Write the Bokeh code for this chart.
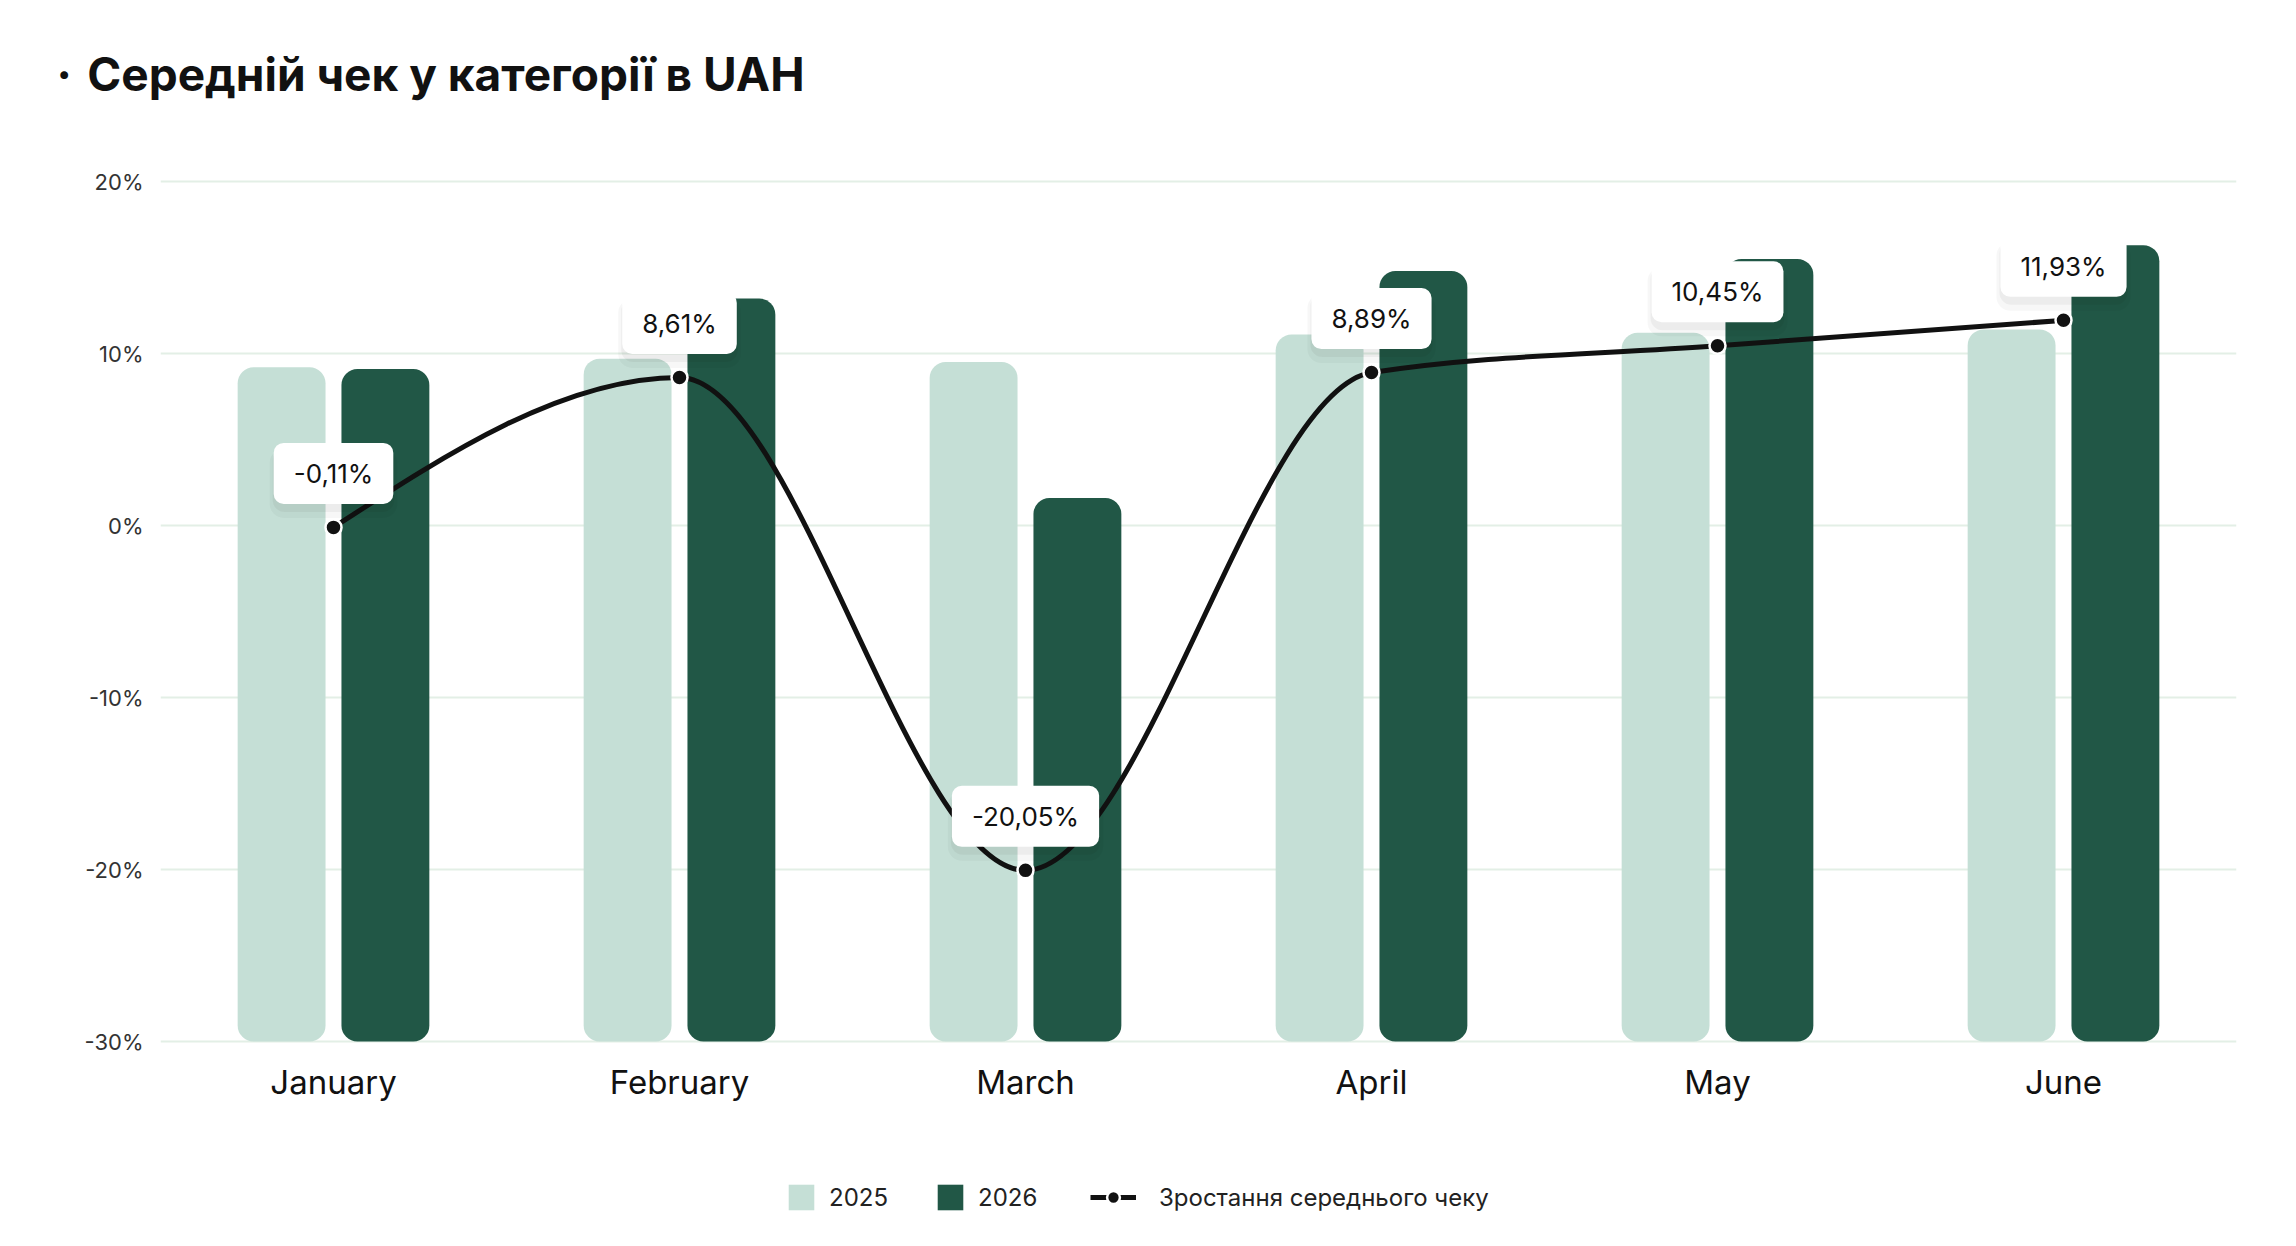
from bokeh.plotting import figure
from bokeh.models import (Range1d, FixedTicker, PrintfTickFormatter, ColumnDataSource,
                          Legend, LegendItem)
from bokeh.transform import dodge
from bokeh.core.properties import value
from bokeh.embed import file_html
from bokeh.resources import INLINE

# ---------------- data ----------------
months = ["January", "February", "March", "April", "May", "June"]
bar_2025 = [9.2, 9.7, 9.5, 11.1, 11.2, 11.4]      # bar heights read on the left scale
bar_2026 = [9.1, 13.2, 1.6, 14.8, 15.5, 16.3]
growth = [-0.11, 8.61, -20.05, 8.89, 10.45, 11.93]  # Зростання середнього чеку, %
y_ticks = [-30, -20, -10, 0, 10, 20]
bar_base = -30
title_text = "Середній чек у категорії в UAH"
series_names = ["2025", "2026", "Зростання середнього чеку"]

# ---------------- styling / layout ----------------
FONT = "Inter"
C25 = "#c5dfd6"
C26 = "#215746"
LINE = "#111111"
GRID = "#e3efe6"

W, H = 2288, 1238
LEFT, RIGHT, TOP = 160, 52, 101           # frame borders (frame reaches the canvas bottom)
PX_PER_UNIT = 17.2                        # 10 % = 172 px
Y_TOP_PX, Y_BOT_PX = 181, 1041            # where 20 % and -30 % lie
y_end = y_ticks[-1] + (Y_TOP_PX - TOP) / PX_PER_UNIT
y_start = y_ticks[0] - (H - Y_BOT_PX) / PX_PER_UNIT

xs = [i + 0.5 for i in range(len(months))]
labels = [f"{v:.2f}".replace(".", ",") + "%" for v in growth]

src = ColumnDataSource(dict(x=xs, m=months, b25=bar_2025, b26=bar_2026,
                            g=growth, lab=labels))

p = figure(width=W, height=H, output_backend="svg", toolbar_location=None,
           x_range=Range1d(0, len(months)), y_range=Range1d(y_start, y_end),
           x_axis_location=None,
           min_border_left=LEFT, min_border_right=RIGHT, min_border_top=TOP,
           min_border_bottom=0, outline_line_color=None, background_fill_color="white",
           border_fill_color="white")

# title
p.title.text = "·\u2004" + title_text
p.title.align = "left"
p.title.offset = -104
p.title.vertical_align = "bottom"
p.title.standoff = 0
p.title.text_font = FONT
p.title.text_font_size = "46px"
p.title.text_font_style = "bold"
p.title.text_color = "#111111"

# grid
p.xgrid.grid_line_color = None
p.ygrid.ticker = FixedTicker(ticks=y_ticks)
p.ygrid.grid_line_color = GRID
p.ygrid.grid_line_width = 2

# y axis
p.yaxis.ticker = FixedTicker(ticks=y_ticks)
p.yaxis.formatter = PrintfTickFormatter(format="%d%%")
p.yaxis.axis_line_color = None
p.yaxis.major_tick_line_color = None
p.yaxis.minor_tick_line_color = None
p.yaxis.major_tick_out = 0
p.yaxis.major_label_standoff = 17
p.yaxis.major_label_text_font = FONT
p.yaxis.major_label_text_font_size = "22px"
p.yaxis.major_label_text_color = "#333333"

# month labels under the -30 % line
p.text(x="x", y=bar_base, text="m", source=src, text_font=value(FONT),
       text_font_size=value("33px"), text_color="#111111", text_align="center",
       text_baseline="middle", y_offset=40)

# bars
r25 = p.vbar(x=dodge("x", -0.15, range=p.x_range), top="b25", bottom=bar_base, width=0.254,
             source=src, fill_color=C25, line_color=None, border_radius=16)
r26 = p.vbar(x=dodge("x", 0.15, range=p.x_range), top="b26", bottom=bar_base, width=0.254,
             source=src, fill_color=C26, line_color=None, border_radius=16)

# smooth (monotone cubic) line drawn as bezier segments through the data points
def sign(v):
    return (v > 0) - (v < 0)

n = len(xs)
h = [xs[i + 1] - xs[i] for i in range(n - 1)]
s = [(growth[i + 1] - growth[i]) / h[i] for i in range(n - 1)]
t = [0.0] * n
for i in range(1, n - 1):
    pp = (s[i - 1] * h[i] + s[i] * h[i - 1]) / (h[i - 1] + h[i])
    t[i] = (sign(s[i - 1]) + sign(s[i])) * min(abs(s[i - 1]), abs(s[i]), 0.5 * abs(pp))
t[0] = (3 * s[0] - t[1]) / 2
t[-1] = (3 * s[-1] - t[-2]) / 2
bz = dict(x0=[], y0=[], x1=[], y1=[], cx0=[], cy0=[], cx1=[], cy1=[])
for i in range(n - 1):
    bz["x0"].append(xs[i]); bz["y0"].append(growth[i])
    bz["x1"].append(xs[i + 1]); bz["y1"].append(growth[i + 1])
    bz["cx0"].append(xs[i] + h[i] / 3); bz["cy0"].append(growth[i] + h[i] * t[i] / 3)
    bz["cx1"].append(xs[i + 1] - h[i] / 3); bz["cy1"].append(growth[i + 1] - h[i] * t[i + 1] / 3)
rl = p.bezier(x0="x0", y0="y0", x1="x1", y1="y1", cx0="cx0", cy0="cy0", cx1="cx1", cy1="cy1",
              source=ColumnDataSource(bz), line_color=LINE, line_width=5)
rm = p.scatter(x="x", y="g", source=src, size=16, fill_color=LINE, line_color="white",
               line_width=2.5)

# value labels (soft shadow + white box)
for k, (al, off) in enumerate([(0.045, -47), (0.03, -44)]):
    p.text(x="x", y="g", text="lab", source=src, text_alpha=0, text_font=value(FONT),
           text_font_size=value("26px"), text_align="center", text_baseline="middle",
           y_offset=off, background_fill_color="#000000", background_fill_alpha=al,
           padding=dict(x=21 + 3 * k, y=16 + 3 * k), border_radius=12 + 2 * k)
p.text(x="x", y="g", text="lab", source=src, text_color="#111111", text_font=value(FONT),
       text_font_size=value("26px"), text_align="center", text_baseline="middle",
       y_offset=-54, background_fill_color="white", padding=dict(x=20, y=15), border_radius=10)

# legends (inside the frame, under the month labels)
common = dict(orientation="horizontal", label_text_font=FONT, label_text_font_size="24px",
              label_text_color="#222222", border_line_alpha=0, background_fill_alpha=0,
              padding=0, margin=0, glyph_height=32, label_height=32)
leg1 = Legend(items=[LegendItem(label=series_names[0], renderers=[r25]),
                     LegendItem(label=series_names[1], renderers=[r26])],
              location=(625, 25), glyph_width=32, spacing=46, label_standoff=12, **common)
leg2 = Legend(items=[LegendItem(label=series_names[2], renderers=[rl, rm])],
              location=(930, 25), glyph_width=46, label_standoff=23, **common)
p.add_layout(leg1)
p.add_layout(leg2)

open("out.html", "w").write(file_html(p, INLINE))
